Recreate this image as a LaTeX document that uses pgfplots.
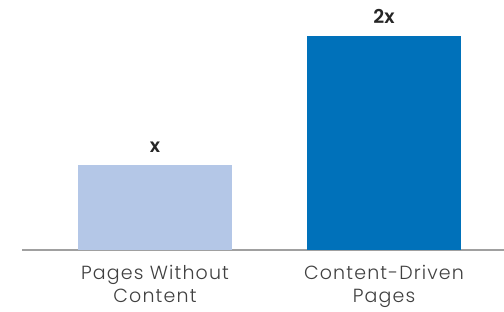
\documentclass[border=0pt]{standalone}
\usepackage{pgfplots}
\pgfplotsset{compat=1.18}
\usepackage{fontspec}
\setmainfont{Poppins}[UprightFont=* Light, BoldFont=* SemiBold]
\definecolor{lightbar}{HTML}{B4C7E7}
\definecolor{darkbar}{HTML}{0071BA}
\definecolor{txt}{HTML}{404040}
\definecolor{base}{HTML}{A0A0A0}
\begin{document}
\begin{tikzpicture}[x=1pt,y=1pt]
\useasboundingbox (-22pt,-62pt) rectangle (482pt,250pt);
\begin{axis}[
  scale only axis, width=482pt, height=250pt,
  xmin=22, xmax=504, ymin=0, ymax=250,
  axis y line=none, axis x line*=bottom,
  x axis line style={base, line width=2.5pt, -},
  xtick={155,384}, xticklabels={Pages Without\\Content, Content-Driven\\Pages},
  xticklabel style={align=center, font=\fontsize{19}{23}\selectfont\addfontfeature{LetterSpace=6}\color{txt}, yshift=-12pt},
  major tick length=0pt, xtick style={draw=none},
  clip=false,
  nodes near coords, point meta=explicit symbolic,
  nodes near coords style={font=\bfseries\fontsize{19}{22}\selectfont, text=black!85, anchor=south, yshift=9pt},
]
\addplot[ybar, bar width=154, fill=lightbar, draw=none] coordinates {(155,85) [x]};
\addplot[ybar, bar width=154, fill=darkbar, draw=none] coordinates {(384,214) [2x]};
\end{axis}
\end{tikzpicture}
\end{document}
